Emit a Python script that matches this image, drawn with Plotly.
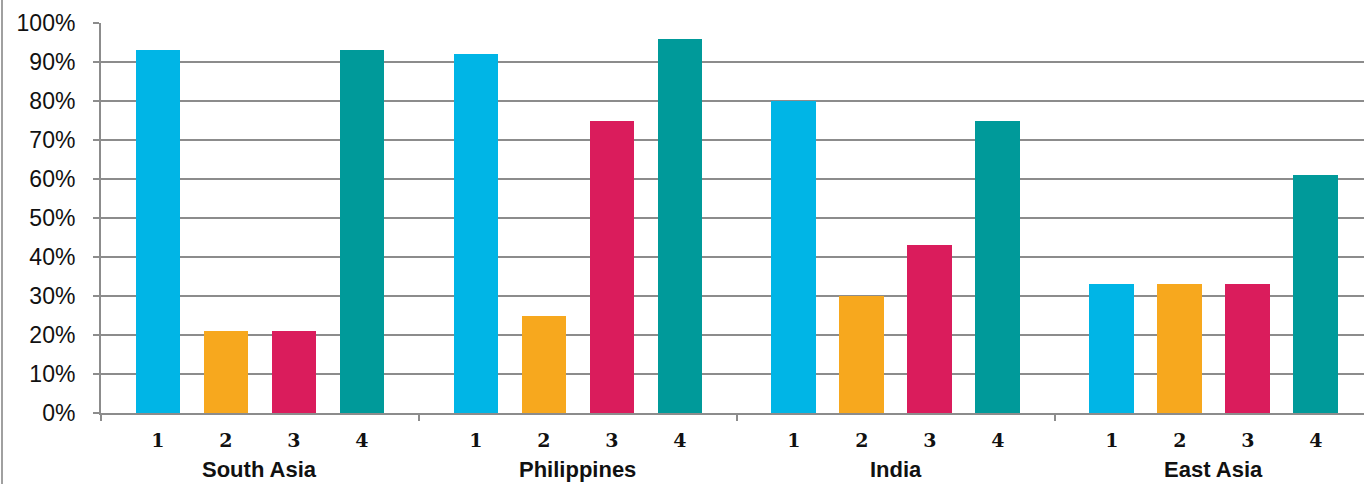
import plotly.graph_objects as go

# Survey shares by region (percent), one list per answer option
regions = ["South Asia", "Philippines", "India", "East Asia"]
options = ["1", "2", "3", "4"]
values_opt1 = [93, 92, 80, 33]
values_opt2 = [21, 25, 30, 33]
values_opt3 = [21, 75, 43, 33]
values_opt4 = [93, 96, 75, 61]
y_tick_vals = [0, 10, 20, 30, 40, 50, 60, 70, 80, 90, 100]
y_tick_text = ["0%", "10%", "20%", "30%", "40%", "50%", "60%", "70%", "80%", "90%", "100%"]

series = [values_opt1, values_opt2, values_opt3, values_opt4]
colors = ["#00b5e6", "#f7a81e", "#da1c5c", "#009a9a"]

GROUP_SPAN = 4.676          # width of one region block, in bar slots
BAR_WIDTH = 0.66
pad = (GROUP_SPAN - len(options)) / 2

def xpos(g, k):
    return g * GROUP_SPAN + k

fig = go.Figure()
for k, (vals, col) in enumerate(zip(series, colors)):
    fig.add_trace(go.Bar(
        x=[xpos(g, k) for g in range(len(regions))],
        y=vals,
        width=BAR_WIDTH,
        marker=dict(color=col, line=dict(width=0)),
        name=options[k],
        showlegend=False,
    ))

W, H = 1364, 484
ML, MR, MT, MB = 101, 0, 23, 71
x_start = -0.5 - pad
x_end = x_start + (W - ML - MR) / 68.0

bar_ticks = [xpos(g, k) for g in range(len(regions)) for k in range(len(options))]
bar_labels = [o for _ in regions for o in options]
dividers = [x_start + g * GROUP_SPAN for g in range(len(regions) + 1)]

fig.update_layout(
    width=W, height=H,
    margin=dict(l=ML, r=MR, t=MT, b=MB, pad=0),
    paper_bgcolor="white", plot_bgcolor="white",
    bargap=0,
    xaxis=dict(
        range=[x_start, x_end],
        tickmode="array", tickvals=bar_ticks, ticktext=bar_labels,
        ticks="", ticklabelstandoff=9,
        tickfont=dict(family="DejaVu Serif", size=19, color="#111111", weight="bold"),
        showgrid=False, zeroline=False,
        showline=True, linecolor="#8c8c8c", linewidth=2,
        minor=dict(tickmode="array", tickvals=dividers, ticks="outside",
                   ticklen=6, tickwidth=2, tickcolor="#8c8c8c", showgrid=False),
    ),
    yaxis=dict(
        range=[0, 100],
        tickmode="array", tickvals=y_tick_vals, ticktext=y_tick_text,
        ticks="outside", ticklen=6, tickwidth=2, tickcolor="#8c8c8c",
        ticklabelstandoff=13,
        tickfont=dict(family="Liberation Sans", size=23, color="#111111"),
        showgrid=True, gridcolor="#8c8c8c", gridwidth=2,
        zeroline=False,
        showline=True, linecolor="#8c8c8c", linewidth=2,
    ),
)

for g, name in enumerate(regions):
    fig.add_annotation(
        x=xpos(g, 1.5), y=0, xref="x", yref="paper",
        text=name, showarrow=False, xanchor="center", yanchor="top",
        yshift=-42,
        font=dict(family="Liberation Sans", size=22, color="#111111", weight="bold"),
    )

# thin frame line at the left edge of the page
fig.add_shape(type="line", xref="paper", yref="paper",
              x0=-(ML - 2) / (W - ML - MR), x1=-(ML - 2) / (W - ML - MR),
              y0=-MB / (H - MT - MB), y1=1 + MT / (H - MT - MB),
              line=dict(color="#a0a0a0", width=2))

fig.write_html("out.html")
